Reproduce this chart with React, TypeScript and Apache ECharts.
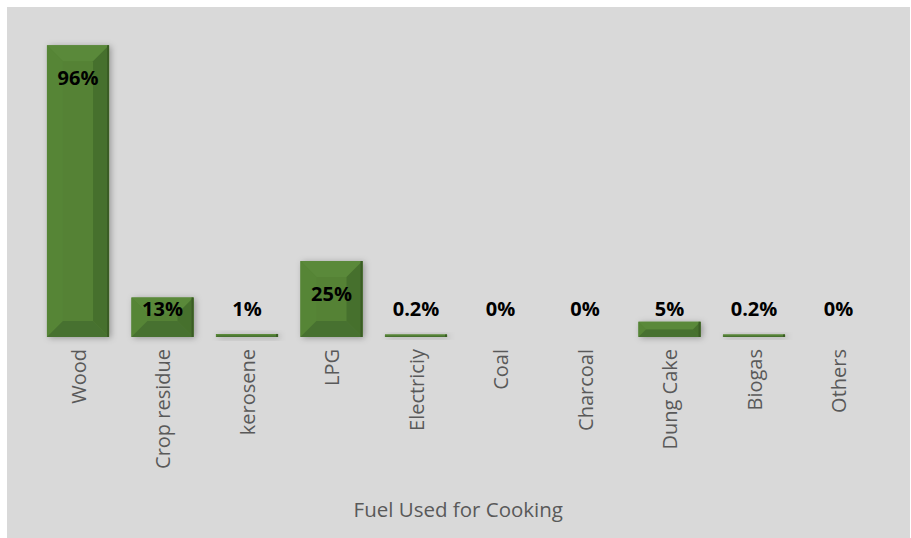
import React, { useEffect, useRef } from "react";
import * as echarts from "echarts";

const categories = ["Wood", "Crop residue", "kerosene", "LPG", "Electriciy", "Coal", "Charcoal", "Dung Cake", "Biogas", "Others"];
const values = [96, 13, 1, 25, 0.2, 0, 0, 5, 0.2, 0];
const axisTitle = "Fuel Used for Cooking";

export default function App() {
  const ref = useRef<HTMLDivElement>(null);
  useEffect(() => {
    document.body.style.margin = "0";
    const chart = echarts.init(ref.current!, null, { renderer: "svg" });
    const option: any = {
      animation: false,
      backgroundColor: "#ffffff",
      graphic: [
        {
          type: "rect",
          z: -10,
          silent: true,
          shape: { x: 7, y: 7, width: 903, height: 531 },
          style: { fill: "#d9d9d9" },
        },
      ],
      grid: { left: 35.75, right: 30.25, top: 33, bottom: 201 },
      xAxis: {
        type: "category",
        data: categories,
        axisLine: { show: false },
        axisTick: { show: false },
        axisLabel: {
          rotate: 90,
          margin: 12,
          color: "#595959",
          fontSize: 20,
          fontFamily: "Open Sans",
        },
        name: axisTitle,
        nameLocation: "middle",
        nameGap: 161,
        nameTextStyle: { color: "#595959", fontSize: 20.5, fontFamily: "Open Sans" },
      },
      yAxis: { type: "value", min: 0, max: 100, show: false, splitLine: { show: false } },
      series: [
        {
          type: "custom",
          data: values.map((v, i) => [i, v]),
          renderItem: (params: any, api: any) => {
            const idx = api.value(0);
            const val = api.value(1);
            const base = api.coord([idx, 0]);
            const top = api.coord([idx, val]);
            const catW = api.size([1, 0])[0];
            const w = catW * 0.735;
            const x = base[0] - w / 2;
            let h = base[1] - top[1];
            if (val > 0 && h < 2.5) h = 2.5;
            const y = base[1] - h;
            const b = Math.min(16, w / 2, h / 2);
            const children: any[] = [];
            if (val > 0) {
              children.push({
                type: "rect",
                shape: { x, y, width: w, height: h },
                style: { fill: "#548235", shadowBlur: 6, shadowColor: "rgba(0,0,0,0.3)", shadowOffsetX: 2, shadowOffsetY: 1 },
              });
              children.push({
                type: "polygon",
                shape: { points: [[x, y], [x + w, y], [x + w - b, y + b], [x + b, y + b]] },
                style: { fill: "#5a893a" },
              });
              children.push({
                type: "polygon",
                shape: { points: [[x, y], [x + b, y + b], [x + b, y + h - b], [x, y + h]] },
                style: { fill: "#568536" },
              });
              children.push({
                type: "polygon",
                shape: { points: [[x + w, y], [x + w, y + h], [x + w - b, y + h - b], [x + w - b, y + b]] },
                style: { fill: "#46702d" },
              });
              children.push({
                type: "polygon",
                shape: { points: [[x, y + h], [x + b, y + h - b], [x + w - b, y + h - b], [x + w, y + h]] },
                style: { fill: "#477130" },
              });
              children.push({
                type: "rect",
                shape: { x: x + w - 2, y, width: 2, height: h },
                style: { fill: "#3a5c24" },
              });
            }
            const labelY = Math.min(top[1] + 32, base[1] - 29);
            children.push({
              type: "text",
              x: base[0],
              y: labelY,
              style: {
                text: val + "%",
                fill: "#000000",
                fontSize: 20,
                fontWeight: "bold",
                fontFamily: "Open Sans",
                align: "center",
                verticalAlign: "middle",
              },
            });
            return { type: "group", children };
          },
        },
      ],
    };
    chart.setOption(option);
    return () => chart.dispose();
  }, []);
  return <div ref={ref} style={{ width: 911, height: 538 }} />;
}
